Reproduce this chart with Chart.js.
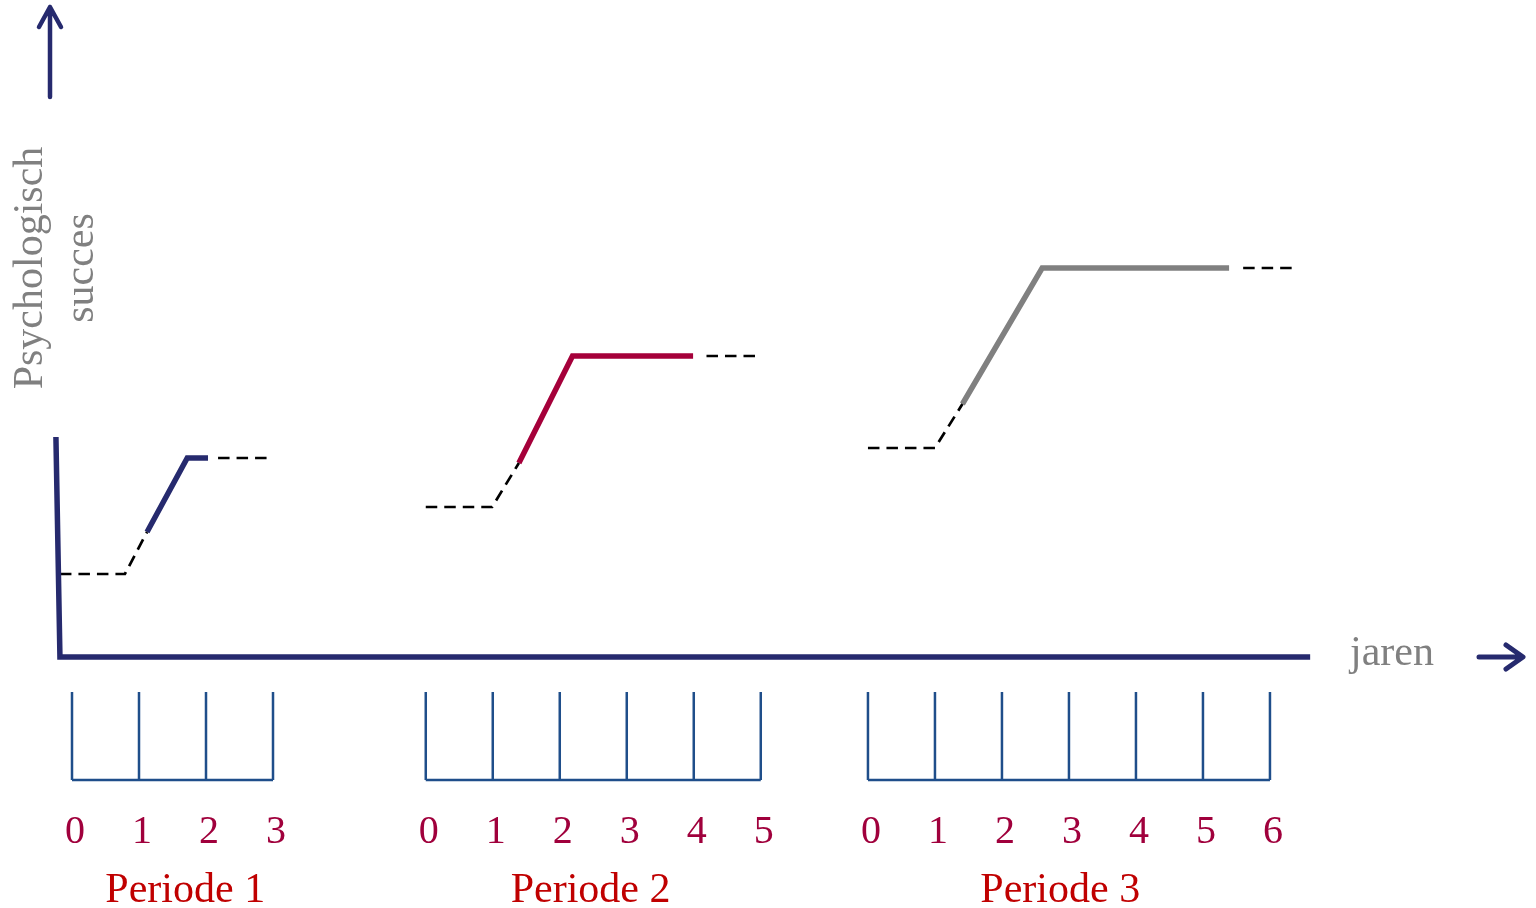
<!DOCTYPE html>
<html><head><meta charset="utf-8">
<script src="https://cdn.jsdelivr.net/npm/chart.js@4.4.0/dist/chart.umd.min.js"></script>
<style>html,body{margin:0;padding:0;background:#fff}#wrap{width:1536px;height:908px;position:relative}</style>
</head><body><div id="wrap"><canvas id="c"></canvas></div>
<script>
// ---- data (time in years, success in arbitrary units) ----
const periods = ['Periode 1', 'Periode 2', 'Periode 3'];
const periodYears = [3, 5, 6];
const periodStart = [0, 5.28, 11.88];
const baseFrom = [-0.18, 0, 0];
const riseFrom = [0.79, 0.99, 1.0];
const solidFrom = [1.12, 1.39, 1.41];
const peakAt = [1.72, 2.19, 2.60];
const plateauTo = [2.03, 3.99, 5.39];
const trendFrom = [2.18, 4.19, 5.60];
const trendTo = [2.92, 4.93, 6.33];
const baseLevel = [0.83, 1.50, 2.09];
const solidFromLevel = [1.25, 1.94, 2.53];
const peakLevel = [1.99, 3.01, 3.89];
const yAxisTop = 2.2;
const xAxisEnd = 18.48;
const yTitle = ['Psychologisch', 'succes'];
const xTitle = 'jaren';

const periodColors = ['#262a6e', '#a5003a', '#808080'];
const NAVY = '#262a6e';

const datasets = [];
// axes
datasets.push({ data: [{x: -0.24, y: yAxisTop}, {x: -0.18, y: 0}, {x: xAxisEnd, y: 0}],
  borderColor: NAVY, borderWidth: 5.5, borderJoinStyle: 'miter' });
periods.forEach((p, i) => {
  const o = periodStart[i];
  datasets.push({ data: [
      {x: o + baseFrom[i], y: baseLevel[i]},
      {x: o + riseFrom[i], y: baseLevel[i]},
      {x: o + solidFrom[i], y: solidFromLevel[i]}],
    borderColor: '#000', borderWidth: 2.7, borderDash: [11.5, 7] });
  datasets.push({ data: [
      {x: o + solidFrom[i], y: solidFromLevel[i]},
      {x: o + peakAt[i], y: peakLevel[i]},
      {x: o + plateauTo[i], y: peakLevel[i]}],
    borderColor: periodColors[i], borderWidth: 5.5 });
  datasets.push({ data: [
      {x: o + trendFrom[i], y: peakLevel[i]},
      {x: o + trendTo[i], y: peakLevel[i]}],
    borderColor: '#000', borderWidth: 2.7, borderDash: [11.5, 7] });
});

const decor = {
  id: 'decor',
  afterDraw(chart) {
    const ctx = chart.ctx, xs = chart.scales.x, ys = chart.scales.y;
    ctx.save();
    // period boxes
    ctx.strokeStyle = '#1f4e8a';
    ctx.lineWidth = 2.5;
    const top = ys.getPixelForValue(-0.35), bot = ys.getPixelForValue(-1.23);
    const labelCenters = [1.69, 2.46, 2.87];
    periods.forEach((p, i) => {
      const o = periodStart[i];
      ctx.beginPath();
      for (let k = 0; k <= periodYears[i]; k++) {
        const px = xs.getPixelForValue(o + k);
        ctx.moveTo(px, top); ctx.lineTo(px, bot);
      }
      ctx.moveTo(xs.getPixelForValue(o), bot);
      ctx.lineTo(xs.getPixelForValue(o + periodYears[i]), bot);
      ctx.stroke();
      ctx.fillStyle = '#a0003c';
      ctx.font = '40px "Liberation Serif", "Times New Roman", serif';
      ctx.textAlign = 'center';
      ctx.textBaseline = 'alphabetic';
      for (let k = 0; k <= periodYears[i]; k++) {
        ctx.fillText(String(k), xs.getPixelForValue(o + k) + 3, ys.getPixelForValue(-1.86));
      }
      ctx.fillStyle = '#c00000';
      ctx.font = '42px "Liberation Serif", "Times New Roman", serif';
      ctx.fillText(p, xs.getPixelForValue(o + labelCenters[i]), ys.getPixelForValue(-2.45));
    });
    // arrows
    ctx.strokeStyle = NAVY;
    ctx.lineCap = 'round'; ctx.lineJoin = 'round';
    ctx.lineWidth = 4.5;
    ctx.beginPath();
    ctx.moveTo(50, 97); ctx.lineTo(50, 7);
    ctx.moveTo(39, 27); ctx.lineTo(50, 7); ctx.lineTo(61, 27);
    ctx.stroke();
    ctx.lineWidth = 5;
    ctx.beginPath();
    ctx.moveTo(1479, 657); ctx.lineTo(1522, 657);
    ctx.moveTo(1506, 645); ctx.lineTo(1523, 657); ctx.lineTo(1506, 669);
    ctx.stroke();
    // titles
    ctx.fillStyle = '#808080';
    ctx.font = '42px "Liberation Serif", "Times New Roman", serif';
    ctx.textAlign = 'left';
    ctx.textBaseline = 'alphabetic';
    ctx.fillText(xTitle, 1350, 665);
    ctx.save();
    ctx.translate(42, 268); ctx.rotate(-Math.PI / 2);
    ctx.textAlign = 'center';
    ctx.fillText(yTitle[0], 0, 0);
    ctx.restore();
    ctx.save();
    ctx.translate(93, 268); ctx.rotate(-Math.PI / 2);
    ctx.textAlign = 'center';
    ctx.fillText(yTitle[1], 0, 0);
    ctx.restore();
    ctx.restore();
  }
};

new Chart(document.getElementById('c'), {
  type: 'line',
  data: { datasets },
  options: {
    responsive: true, maintainAspectRatio: false, animation: false, events: [],
    layout: { padding: 0 },
    elements: { point: { radius: 0 }, line: { tension: 0, fill: false } },
    clip: false,
    scales: {
      x: { type: 'linear', display: false, min: -72 / 67, max: (1536 - 72) / 67 },
      y: { type: 'linear', display: false, min: -2.51, max: 6.57 }
    },
    plugins: { legend: { display: false }, tooltip: { enabled: false } }
  },
  plugins: [decor]
});
</script>
</body></html>
